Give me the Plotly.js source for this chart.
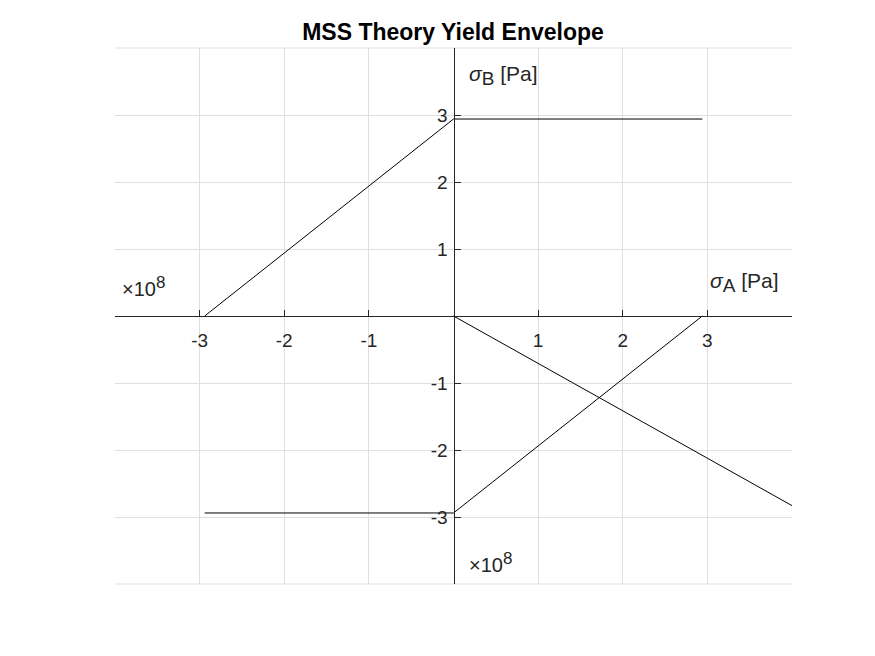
<!DOCTYPE html>
<html>
<head>
<meta charset="utf-8">
<script src="https://cdn.plot.ly/plotly-3.0.1.min.js"></script>
<style>body{margin:0;background:#fff;}#chart{width:875px;height:656px;}</style>
</head>
<body>
<div id="chart"></div>
<script>
// Data (Pa)
const upperX = [-2.94e8, 0, 2.94e8];
const upperY = [0, 2.94e8, 2.94e8];
const lowerX = [-2.94e8, 0, 2.94e8];
const lowerY = [-2.94e8, -2.94e8, 0];
const diagX = [0, 4e8];
const diagY = [0, -2.83e8];
const tickVals = [-4e8, -3e8, -2e8, -1e8, 1e8, 2e8, 3e8, 4e8];
const tickText = ['', '-3', '-2', '-1', '1', '2', '3', ''];

const FONT = 'Liberation Sans, Arial, sans-serif';
const lineStyle = {color: '#000000', width: 1};
const traces = [
  {x: upperX, y: upperY, mode: 'lines', line: lineStyle, hoverinfo: 'skip'},
  {x: lowerX, y: lowerY, mode: 'lines', line: lineStyle, hoverinfo: 'skip'},
  {x: diagX, y: diagY, mode: 'lines', line: lineStyle, hoverinfo: 'skip'}
];

const axisCommon = {
  range: [-4e8, 4e8],
  tickvals: tickVals,
  ticktext: tickText,
  ticks: 'inside',
  ticklen: 6,
  tickwidth: 1,
  tickcolor: '#262626',
  showline: true,
  linecolor: '#262626',
  linewidth: 1,
  showgrid: true,
  gridcolor: '#dfdfdf',
  gridwidth: 1,
  zeroline: false,
  anchor: 'free',
  position: 0.5,
  tickfont: {family: FONT, size: 19, color: '#262626'},
  fixedrange: true
};

const subB = '<i>σ</i><sub><span style="font-size:19px">B</span></sub> [Pa]';
const subA = '<i>σ</i><sub><span style="font-size:19px">A</span></sub> [Pa]';
const expo = '×10<sup><span style="font-size:17px">8</span></sup>';

const layout = {
  width: 875, height: 656,
  margin: {l: 115, r: 83, t: 48, b: 72},
  paper_bgcolor: '#ffffff',
  plot_bgcolor: '#ffffff',
  showlegend: false,
  title: {text: '<b>MSS Theory Yield Envelope</b>', x: 453 / 875, xanchor: 'center', y: 1 - 32 / 656, yanchor: 'middle',
          font: {family: FONT, size: 23, color: '#000000'}},
  xaxis: Object.assign({}, axisCommon, {ticklabelstandoff: 7}),
  yaxis: Object.assign({}, axisCommon, {ticklabelstandoff: 2}),
  annotations: [
    {xref: 'paper', yref: 'paper', x: 0.52, y: 0.948, xanchor: 'left', yanchor: 'middle', showarrow: false,
     text: subB, font: {family: FONT, size: 21, color: '#262626'}},
    {xref: 'paper', yref: 'paper', x: 0.876, y: 0.563, xanchor: 'left', yanchor: 'middle', showarrow: false,
     text: subA, font: {family: FONT, size: 21, color: '#262626'}},
    {xref: 'paper', yref: 'paper', x: 0.008, y: 0.555, xanchor: 'left', yanchor: 'middle', showarrow: false,
     text: expo, font: {family: FONT, size: 20, color: '#262626'}},
    {xref: 'paper', yref: 'paper', x: 0.52, y: 0.04, xanchor: 'left', yanchor: 'middle', showarrow: false,
     text: expo, font: {family: FONT, size: 20, color: '#262626'}}
  ],
  shapes: [
    {type: 'line', xref: 'paper', yref: 'paper', x0: 0, x1: 1, y0: 1, y1: 1, line: {color: '#dfdfdf', width: 1}, layer: 'below'},
    {type: 'line', xref: 'paper', yref: 'paper', x0: 0, x1: 1, y0: 0, y1: 0, line: {color: '#dfdfdf', width: 1}, layer: 'below'}
  ]
};

Plotly.newPlot('chart', traces, layout, {displayModeBar: false, staticPlot: true});
</script>
</body>
</html>
